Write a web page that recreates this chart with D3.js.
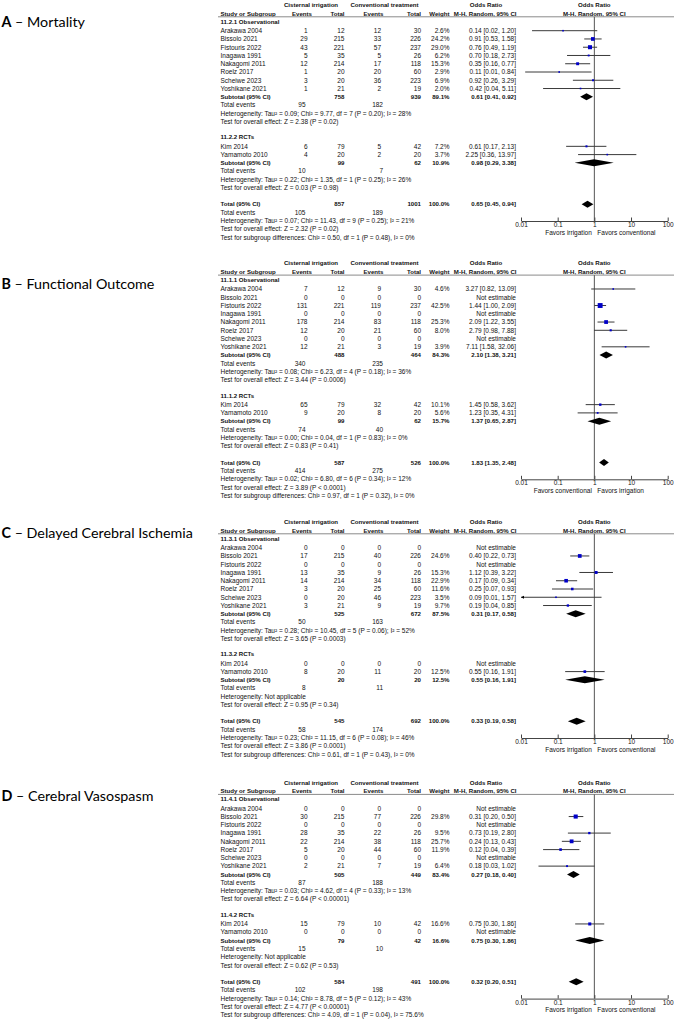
<!DOCTYPE html>
<html><head><meta charset="utf-8">
<script src="https://cdn.jsdelivr.net/npm/d3@7"></script>
<style>body{margin:0;background:#fff} svg{display:block}</style>
</head><body><svg id="c" width="674" height="1021"></svg>
<script>
// ---------------- DATA ----------------
const studyNames = ["Arakawa 2004","Bissolo 2021","Fistouris 2022","Inagawa 1991","Nakagomi 2011","Roelz 2017","Scheiwe 2023","Yoshikane 2021","Kim 2014","Yamamoto 2010"];
const groupSizes = [8, 2];
const panelLetters = ["A","B","C","D"];
const panelTitles = ["Mortality","Functional Outcome","Delayed Cerebral Ischemia","Cerebral Vasospasm"];
const groupTitles = [
  ["11.2.1 Observational","11.2.2 RCTs"],
  ["11.1.1 Observational","11.1.2 RCTs"],
  ["11.3.1 Observational","11.3.2 RCTs"],
  ["11.4.1 Observational","11.4.2 RCTs"]
];
const favorsLeft = ["Favors irrigation","Favors conventional","Favors irrigation","Favors irrigation"];
const favorsRight = ["Favors conventional","Favors irrigation","Favors conventional","Favors conventional"];
const axisTicks = [0.01, 0.1, 1, 10, 100];
const axisTickLabels = ["0.01","0.1","1","10","100"];

// A - Mortality
const mortEventsIrr = [1,29,43,5,12,1,3,1,6,4];
const mortTotalIrr  = [12,215,221,35,214,20,20,21,79,20];
const mortEventsCon = [12,33,57,5,17,20,36,2,5,2];
const mortTotalCon  = [30,226,237,26,118,60,223,19,42,20];
const mortWeight    = [2.6,24.2,29.0,6.2,15.3,2.9,6.9,2.0,7.2,3.7];
const mortOR        = [0.14,0.91,0.76,0.70,0.35,0.11,0.92,0.42,0.61,2.25];
const mortLower     = [0.02,0.53,0.49,0.18,0.16,0.013,0.26,0.04,0.17,0.36];
const mortUpper     = [1.20,1.58,1.19,2.73,0.77,0.84,3.29,5.11,2.13,13.97];
const mortSumTotalIrr = [758,99,857];
const mortSumTotalCon = [939,62,1001];
const mortSumWeight = [89.1,10.9,100.0];
const mortSumOR     = [0.61,0.98,0.65];
const mortSumLower  = [0.41,0.29,0.45];
const mortSumUpper  = [0.92,3.38,0.94];
const mortSumEventsIrr = [95,10,105];
const mortSumEventsCon = [182,7,189];
const mortHeterogeneity = ["Tau² = 0.09; Chi² = 9.77, df = 7 (P = 0.20); I² = 28%","Tau² = 0.22; Chi² = 1.35, df = 1 (P = 0.25); I² = 26%","Tau² = 0.07; Chi² = 11.43, df = 9 (P = 0.25); I² = 21%"];
const mortOverallEffect = ["Z = 2.38 (P = 0.02)","Z = 0.03 (P = 0.98)","Z = 2.32 (P = 0.02)"];
const mortSubgroupDiff = "Chi² = 0.50, df = 1 (P = 0.48), I² = 0%";

// B - Functional outcome
const funcEventsIrr = [7,0,131,0,178,12,0,12,65,9];
const funcTotalIrr  = [12,0,221,0,214,20,0,21,79,20];
const funcEventsCon = [9,0,119,0,83,21,0,3,32,8];
const funcTotalCon  = [30,0,237,0,118,60,0,19,42,20];
const funcWeight    = [4.6,null,42.5,null,25.3,8.0,null,3.9,10.1,5.6];
const funcOR        = [3.27,null,1.44,null,2.09,2.79,null,7.11,1.45,1.23];
const funcLower     = [0.82,null,1.00,null,1.22,0.98,null,1.58,0.58,0.35];
const funcUpper     = [13.09,null,2.09,null,3.55,7.88,null,32.06,3.62,4.31];
const funcSumTotalIrr = [488,99,587];
const funcSumTotalCon = [464,62,526];
const funcSumWeight = [84.3,15.7,100.0];
const funcSumOR     = [2.10,1.37,1.83];
const funcSumLower  = [1.38,0.65,1.35];
const funcSumUpper  = [3.21,2.87,2.48];
const funcSumEventsIrr = [340,74,414];
const funcSumEventsCon = [235,40,275];
const funcHeterogeneity = ["Tau² = 0.08; Chi² = 6.23, df = 4 (P = 0.18); I² = 36%","Tau² = 0.00; Chi² = 0.04, df = 1 (P = 0.83); I² = 0%","Tau² = 0.02; Chi² = 6.80, df = 6 (P = 0.34); I² = 12%"];
const funcOverallEffect = ["Z = 3.44 (P = 0.0006)","Z = 0.83 (P = 0.41)","Z = 3.89 (P < 0.0001)"];
const funcSubgroupDiff = "Chi² = 0.97, df = 1 (P = 0.32), I² = 0%";

// C - Delayed cerebral ischemia
const dciEventsIrr = [0,17,0,13,14,3,0,3,0,8];
const dciTotalIrr  = [0,215,0,35,214,20,20,21,0,20];
const dciEventsCon = [0,40,0,9,34,25,46,9,0,11];
const dciTotalCon  = [0,226,0,26,118,60,223,19,0,20];
const dciWeight    = [null,24.6,null,15.3,22.9,11.6,3.5,9.7,null,12.5];
const dciOR        = [null,0.40,null,1.12,0.17,0.25,0.09,0.19,null,0.55];
const dciLower     = [null,0.22,null,0.39,0.09,0.07,0.0051,0.04,null,0.16];
const dciUpper     = [null,0.73,null,3.22,0.34,0.93,1.57,0.85,null,1.91];
const dciSumTotalIrr = [525,20,545];
const dciSumTotalCon = [672,20,692];
const dciSumWeight = [87.5,12.5,100.0];
const dciSumOR     = [0.31,0.55,0.33];
const dciSumLower  = [0.17,0.16,0.19];
const dciSumUpper  = [0.58,1.91,0.58];
const dciSumEventsIrr = [50,8,58];
const dciSumEventsCon = [163,11,174];
const dciHeterogeneity = ["Tau² = 0.28; Chi² = 10.45, df = 5 (P = 0.06); I² = 52%","Not applicable","Tau² = 0.23; Chi² = 11.15, df = 6 (P = 0.08); I² = 46%"];
const dciOverallEffect = ["Z = 3.65 (P = 0.0003)","Z = 0.95 (P = 0.34)","Z = 3.86 (P = 0.0001)"];
const dciSubgroupDiff = "Chi² = 0.61, df = 1 (P = 0.43), I² = 0%";

// D - Cerebral vasospasm
const vasoEventsIrr = [0,30,0,28,22,5,0,2,15,0];
const vasoTotalIrr  = [0,215,0,35,214,20,0,21,79,0];
const vasoEventsCon = [0,77,0,22,38,44,0,7,10,0];
const vasoTotalCon  = [0,226,0,26,118,60,0,19,42,0];
const vasoWeight    = [null,29.8,null,9.5,25.7,11.9,null,6.4,16.6,null];
const vasoOR        = [null,0.31,null,0.73,0.24,0.12,null,0.18,0.75,null];
const vasoLower     = [null,0.20,null,0.19,0.13,0.04,null,0.03,0.30,null];
const vasoUpper     = [null,0.50,null,2.80,0.43,0.39,null,1.02,1.86,null];
const vasoSumTotalIrr = [505,79,584];
const vasoSumTotalCon = [449,42,491];
const vasoSumWeight = [83.4,16.6,100.0];
const vasoSumOR     = [0.27,0.75,0.32];
const vasoSumLower  = [0.18,0.30,0.20];
const vasoSumUpper  = [0.40,1.86,0.51];
const vasoSumEventsIrr = [87,15,102];
const vasoSumEventsCon = [188,10,198];
const vasoHeterogeneity = ["Tau² = 0.03; Chi² = 4.62, df = 4 (P = 0.33); I² = 13%","Not applicable","Tau² = 0.14; Chi² = 8.78, df = 5 (P = 0.12); I² = 43%"];
const vasoOverallEffect = ["Z = 6.64 (P < 0.00001)","Z = 0.62 (P = 0.53)","Z = 4.77 (P < 0.00001)"];
const vasoSubgroupDiff = "Chi² = 4.09, df = 1 (P = 0.04), I² = 75.6%";

// ---------------- BUILD PANELS ----------------
const panels = [
  {ev1:mortEventsIrr,t1:mortTotalIrr,ev2:mortEventsCon,t2:mortTotalCon,w:mortWeight,or:mortOR,lo:mortLower,hi:mortUpper,
   sT1:mortSumTotalIrr,sT2:mortSumTotalCon,sW:mortSumWeight,sOR:mortSumOR,sLo:mortSumLower,sHi:mortSumUpper,sE1:mortSumEventsIrr,sE2:mortSumEventsCon,het:mortHeterogeneity,z:mortOverallEffect,sub:mortSubgroupDiff},
  {ev1:funcEventsIrr,t1:funcTotalIrr,ev2:funcEventsCon,t2:funcTotalCon,w:funcWeight,or:funcOR,lo:funcLower,hi:funcUpper,
   sT1:funcSumTotalIrr,sT2:funcSumTotalCon,sW:funcSumWeight,sOR:funcSumOR,sLo:funcSumLower,sHi:funcSumUpper,sE1:funcSumEventsIrr,sE2:funcSumEventsCon,het:funcHeterogeneity,z:funcOverallEffect,sub:funcSubgroupDiff},
  {ev1:dciEventsIrr,t1:dciTotalIrr,ev2:dciEventsCon,t2:dciTotalCon,w:dciWeight,or:dciOR,lo:dciLower,hi:dciUpper,
   sT1:dciSumTotalIrr,sT2:dciSumTotalCon,sW:dciSumWeight,sOR:dciSumOR,sLo:dciSumLower,sHi:dciSumUpper,sE1:dciSumEventsIrr,sE2:dciSumEventsCon,het:dciHeterogeneity,z:dciOverallEffect,sub:dciSubgroupDiff},
  {ev1:vasoEventsIrr,t1:vasoTotalIrr,ev2:vasoEventsCon,t2:vasoTotalCon,w:vasoWeight,or:vasoOR,lo:vasoLower,hi:vasoUpper,
   sT1:vasoSumTotalIrr,sT2:vasoSumTotalCon,sW:vasoSumWeight,sOR:vasoSumOR,sLo:vasoSumLower,sHi:vasoSumUpper,sE1:vasoSumEventsIrr,sE2:vasoSumEventsCon,het:vasoHeterogeneity,z:vasoOverallEffect,sub:vasoSubgroupDiff}
];

// ---------------- LAYOUT ----------------
const svg = d3.select("#c");
svg.append("rect").attr("width",674).attr("height",1021).attr("fill","#fff");
const x = d3.scaleLog().domain([0.01,100]).range([521,667.7]);
const rowH = 8.26, row0 = 30.7;
const rowY = k => row0 + k*rowH;
const panelDy = [0, 258.3, 517, 777.6];
const labelY = [26.8, 289, 538, 801];
const col = {name:220.5, ev1:307.5, tot1:344.5, ev2:381, tot2:421, wt:449.5, or:516};
const FS = 6.5, FSB = 6.1;
const FONT = "'Liberation Sans', Arial, sans-serif";
const TXT = "#111";
const f2 = d3.format(".2f"), f1 = d3.format(".1f");

function txt(g, xx, yc, s, anchor, bold) {
  return g.append("text").attr("x", xx).attr("y", yc + 2.3)
    .attr("text-anchor", anchor || "start")
    .attr("font-family", FONT).attr("font-size", bold ? FSB : FS)
    .attr("font-weight", bold ? "bold" : "normal")
    .attr("fill", TXT).text(s);
}
function orText(o, l, h) { return `${f2(o)} [${f2(l)}, ${f2(h)}]`; }

function diamond(g, o, l, h, yc) {
  const hh = 3.5;
  g.append("path")
    .attr("d", `M${x(l)},${yc}L${x(o)},${yc-hh}L${x(h)},${yc}L${x(o)},${yc+hh}Z`)
    .attr("fill", "#000");
}

panels.forEach((P, pi) => {
  const dy = panelDy[pi];
  // panel label
  const lab = svg.append("text").attr("x", 1.5).attr("y", labelY[pi])
    .attr("font-family", "Lato, 'Open Sans', sans-serif").attr("font-size", 14.3).attr("fill", "#000");
  lab.append("tspan").attr("font-weight", "bold").text(panelLetters[pi]);
  lab.append("tspan").text(" – " + panelTitles[pi]);

  const g = svg.append("g").attr("transform", `translate(0,${dy})`);

  // headers
  txt(g, 311, 4.8, "Cisternal irrigation", "middle", true);
  txt(g, 384.5, 4.8, "Conventional treatment", "middle", true);
  txt(g, 486, 4.8, "Odds Ratio", "middle", true);
  txt(g, x(1), 4.8, "Odds Ratio", "middle", true);
  txt(g, col.name, 13.2, "Study or Subgroup", "start", true);
  txt(g, 312, 13.2, "Events", "end", true);
  txt(g, col.tot1, 13.2, "Total", "end", true);
  txt(g, 383.5, 13.2, "Events", "end", true);
  txt(g, col.tot2, 13.2, "Total", "end", true);
  txt(g, col.wt, 13.2, "Weight", "end", true);
  txt(g, col.or + 0.5, 13.2, "M-H, Random, 95% CI", "end", true);
  txt(g, x(1), 13.2, "M-H, Random, 95% CI", "middle", true);
  g.append("line").attr("x1", 218).attr("x2", 674).attr("y1", 16.8).attr("y2", 16.8)
    .attr("stroke", "#8a8a8a").attr("stroke-width", 1);

  // vertical null line
  const axisY = 221;
  g.append("line").attr("x1", x(1)).attr("x2", x(1)).attr("y1", 16.8).attr("y2", axisY)
    .attr("stroke", "#555").attr("stroke-width", 1);

  let start = 0;
  groupSizes.forEach((n, gi) => {
    const base = gi === 0 ? 0 : 14;
    txt(g, col.name, rowY(base) - 9.3, groupTitles[pi][gi], "start", true);
    for (let i = 0; i < n; i++) {
      const idx = start + i, yc = rowY(base + i);
      txt(g, col.name, yc, studyNames[idx]);
      txt(g, col.ev1, yc, P.ev1[idx], "end");
      txt(g, col.tot1, yc, P.t1[idx], "end");
      txt(g, col.ev2, yc, P.ev2[idx], "end");
      txt(g, col.tot2, yc, P.t2[idx], "end");
      if (P.or[idx] == null) {
        txt(g, col.or, yc, "Not estimable", "end");
      } else {
        txt(g, col.wt, yc, f1(P.w[idx]) + "%", "end");
        txt(g, col.or, yc, orText(P.or[idx], P.lo[idx], P.hi[idx]), "end");
        const lo = Math.max(P.lo[idx], 0.01), hi = Math.min(P.hi[idx], 100);
        g.append("line").attr("x1", x(lo)).attr("x2", x(hi)).attr("y1", yc).attr("y2", yc)
          .attr("stroke", "#3a3a3a").attr("stroke-width", 1);
        if (P.lo[idx] < 0.01) {
          const ax = x(0.01);
          g.append("path").attr("d", `M${ax},${yc}L${ax+3},${yc-1.6}L${ax+3},${yc+1.6}Z`).attr("fill", "#000");
        }
        const s = Math.max(1.6, 0.75 * Math.sqrt(P.w[idx]));
        g.append("rect").attr("x", x(P.or[idx]) - s/2).attr("y", yc - s/2)
          .attr("width", s).attr("height", s).attr("fill", "#0000c8");
      }
    }
    // subtotal
    const ys = rowY(base + n);
    txt(g, col.name, ys, "Subtotal (95% CI)", "start", true);
    txt(g, col.tot1, ys, P.sT1[gi], "end", true);
    txt(g, col.tot2, ys, P.sT2[gi], "end", true);
    txt(g, col.wt, ys, f1(P.sW[gi]) + "%", "end", true);
    txt(g, col.or, ys, orText(P.sOR[gi], P.sLo[gi], P.sHi[gi]), "end", true);
    diamond(g, P.sOR[gi], P.sLo[gi], P.sHi[gi], ys);
    txt(g, col.name, rowY(base + n + 1), "Total events");
    txt(g, col.ev1 - 2, rowY(base + n + 1), P.sE1[gi], "end");
    txt(g, col.ev2 + 2, rowY(base + n + 1), P.sE2[gi], "end");
    txt(g, col.name, rowY(base + n + 2), "Heterogeneity: " + P.het[gi]);
    txt(g, col.name, rowY(base + n + 3), "Test for overall effect: " + P.z[gi]);
    start += n;
  });

  // overall
  const yt = rowY(21);
  txt(g, col.name, yt, "Total (95% CI)", "start", true);
  txt(g, col.tot1, yt, P.sT1[2], "end", true);
  txt(g, col.tot2, yt, P.sT2[2], "end", true);
  txt(g, col.wt, yt, f1(P.sW[2]) + "%", "end", true);
  txt(g, col.or, yt, orText(P.sOR[2], P.sLo[2], P.sHi[2]), "end", true);
  diamond(g, P.sOR[2], P.sLo[2], P.sHi[2], yt);
  txt(g, col.name, rowY(22), "Total events");
  txt(g, col.ev1 - 2, rowY(22), P.sE1[2], "end");
  txt(g, col.ev2 + 2, rowY(22), P.sE2[2], "end");
  txt(g, col.name, rowY(23), "Heterogeneity: " + P.het[2]);
  txt(g, col.name, rowY(24), "Test for overall effect: " + P.z[2]);
  txt(g, col.name, rowY(25), "Test for subgroup differences: " + P.sub);

  // axis
  const ax = g.append("g").attr("transform", `translate(0,${axisY})`)
    .call(d3.axisBottom(x).tickValues(axisTicks)
      .tickFormat((d, i) => axisTickLabels[i]).tickSizeInner(-3.5).tickSizeOuter(0).tickPadding(1.5));
  ax.select(".domain").attr("stroke", "#444");
  ax.selectAll(".tick line").attr("stroke", "#444");
  ax.selectAll(".tick text").attr("font-family", FONT).attr("font-size", FS).attr("fill", TXT);
  txt(g, x(1) - 2.5, 232.2, favorsLeft[pi], "end");
  txt(g, x(1) + 3, 232.2, favorsRight[pi], "start");
});
</script></body></html>
